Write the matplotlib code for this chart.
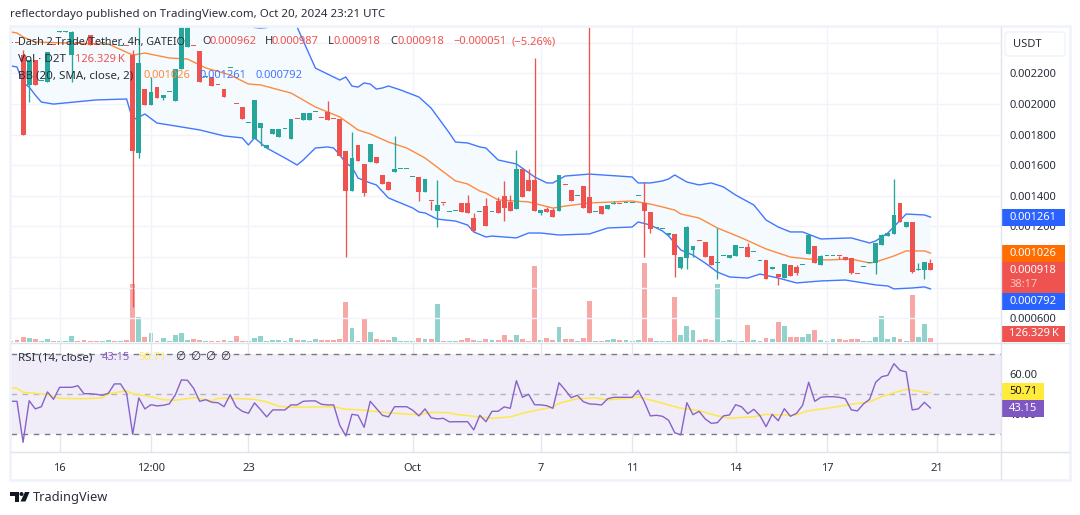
import numpy as np
import matplotlib
matplotlib.use('Agg')
import matplotlib.pyplot as plt
from matplotlib.patches import Rectangle, FancyBboxPatch, Polygon, Circle

plt.rcParams['font.family'] = ['Noto Sans', 'DejaVu Sans']

#### candles, prices in millionths of a USDT
opens = [2400,2401,2319,2124,2287,2150,2145,2386,2472,2472,2319,2399,2386,2450,2386,2398,2385,2386,2378,2379,
         2319,1680,2097,1993,2109,2041,2076,2021,2226,2374,2379,2346,2174,2174,2123,2097,2233,1999,1980,1874,
         1769,1843,1712,1804,1784,1836,1771,1903,1895,1895,1945,1909,1947,1903,1902,1693,1431,1732,1608,1621,
         1653,1536,1490,1555,1573,1573,1521,1523,1425,1365,1301,1352,1292,1299,1353,1353,1255,1292,1333,1292,
         1366,1399,1360,1314,1575,1503,1503,1288,1314,1307,1301,1470,1438,1397,1464,1392,1292,1333,1314,1346,
         1345,1351,1351,1397,1353,1294,1192,1181,1147,1151,929,994,1046,1104,1098,1007,959,1005,994,1007,
         1057,1066,1031,972,981,922,889,863,948,935,948,1020,1072,948,1005,1005,1006,1000,994,888,
         933,959,961,1079,1137,1151,1353,1196,1229,914,916,962]
highs = [2401,2401,2350,2287,2287,2151,2341,2386,2473,2473,2473,2399,2386,2450,2386,2399,2386,2386,2379,2379,
         2352,2548,2097,2178,2109,2058,2077,2228,2548,2548,2379,2346,2175,2174,2123,2097,2234,1999,1980,1875,
         2026,1875,1732,1836,1836,1837,1902,1903,1941,1941,1946,1909,2019,1903,1902,1693,1817,1732,1608,1738,
         1653,1536,1497,1791,1574,1574,1522,1523,1510,1365,1503,1352,1293,1300,1353,1405,1288,1293,1386,1293,
         1392,1497,1405,1699,1575,1575,2300,1307,1327,1320,1536,1470,1438,1398,1464,2548,1293,1333,1340,1366,
         1345,1352,1352,1398,1490,1294,1193,1182,1148,1151,1000,1203,1072,1104,1098,1007,1190,1006,1013,1079,
         1058,1092,1032,973,981,935,889,955,948,948,949,1144,1072,1013,1006,1006,1006,1000,994,888,
         934,960,1092,1151,1157,1510,1353,1229,1229,961,968,987]
lows = [2400,2400,1797,2014,2124,2150,2145,2385,2472,2472,2145,2398,2385,2385,2385,2398,2385,2385,2378,2378,
        674,1649,1993,1993,2041,2026,2076,2021,2226,2374,2378,2145,2174,2117,2122,2045,2233,1998,1902,1874,
        1769,1727,1712,1804,1784,1836,1771,1902,1895,1895,1945,1908,1895,1902,1660,1000,1431,1627,1399,1621,
        1614,1477,1438,1555,1573,1573,1521,1366,1425,1307,1196,1340,1292,1299,1294,1288,1170,1292,1203,1292,
        1288,1235,1301,1314,1392,1431,1301,1275,1294,1262,1301,1469,1366,1397,1320,1288,1292,1281,1314,1346,
        1344,1351,1351,1397,1000,1157,1192,1181,1147,872,922,922,1000,1103,1000,948,857,1005,994,1007,
        1057,1000,1031,972,857,922,818,863,876,883,948,1020,961,948,1005,1005,987,981,889,887,
        933,959,889,1079,1137,1151,1229,1196,896,914,857,918]
closes = [2401,2400,1797,2287,2124,2151,2341,2385,2473,2473,2472,2398,2385,2385,2385,2399,2386,2385,2379,2378,
          1693,2267,1993,2076,2041,2058,2077,2228,2548,2548,2378,2145,2175,2117,2122,2045,2234,1998,1902,1875,
          2026,1875,1732,1836,1836,1837,1902,1902,1941,1941,1946,1908,1895,1902,1660,1431,1647,1627,1418,1738,
          1614,1477,1438,1575,1574,1574,1522,1425,1510,1364,1340,1351,1293,1300,1294,1288,1170,1293,1203,1293,
          1288,1320,1301,1575,1392,1431,1301,1307,1294,1262,1536,1469,1366,1398,1320,1288,1293,1281,1340,1347,
          1344,1352,1352,1398,1301,1183,1193,1182,1148,1013,1000,1196,1072,1103,1000,948,960,1006,1013,1079,
          1058,1000,1032,973,857,935,870,955,876,896,949,1144,961,1007,1006,1006,1005,981,896,887,
          934,960,1092,1144,1157,1275,1229,1229,902,915,968,918]

# volume in thousands
volumes = [32,63,158,126,95,32,95,32,32,32,189,32,63,32,32,32,63,32,32,63,
           1827,788,158,284,32,126,32,221,284,63,95,63,32,32,32,63,32,189,32,32,
           126,189,32,63,63,32,126,63,63,32,95,63,63,63,95,1260,441,32,756,315,
           95,63,63,158,32,32,32,126,95,95,1197,32,32,32,63,126,63,32,95,63,
           63,221,63,221,95,32,2394,63,126,63,473,95,95,32,126,1292,32,32,63,95,
           63,63,32,63,2489,126,32,32,32,1418,221,504,378,63,95,63,1827,32,63,32,
           32,536,63,32,126,95,630,504,158,158,158,252,378,63,32,95,95,63,95,95,
           32,32,158,819,95,158,95,32,1481,158,567,126]

# bollinger bands, only the corners of each line
bb_upper_x = [0,38,39,40,41,42,43,45,47,50,54,55,56,57,58,59,60,61,62,64,67,69,72,73,75,77,78,80,83,86,88,89,91,95,102,
              103,105,107,108,109,111,113,115,117,119,122,124,126,128,130,133,138,141,142,144,147,150,151]
bb_upper = [2548,2548,2518,2499,2496,2499,2528,2528,2502,2234,2156,2176,2117,2110,2137,2130,2097,2104,2117,2091,2045,
            1973,1810,1751,1745,1719,1712,1634,1608,1523,1484,1484,1529,1542,1523,1484,1484,1497,1510,1536,1490,1471,
            1484,1458,1405,1340,1242,1196,1164,1164,1118,1125,1092,1105,1157,1281,1275,1261]
bb_mid_x = [0,1,2,4,9,16,20,22,26,29,32,36,39,41,46,50,54,57,59,62,65,68,73,75,77,78,80,85,89,91,95,102,105,107,109,110,
            113,116,120,124,128,131,134,138,141,142,145,147,150,151]
bb_mid = [2470,2463,2437,2404,2398,2391,2319,2332,2300,2293,2235,2189,2130,2124,2071,1980,1915,1830,1804,1751,1712,1647,
          1497,1477,1431,1418,1373,1360,1320,1333,1353,1366,1346,1327,1307,1281,1255,1190,1125,1053,1000,987,981,987,961,
          968,1007,1040,1040,1026]
bb_lower_x = [0,1,2,3,4,5,7,14,19,20,22,24,27,31,35,38,39,40,42,45,47,48,50,52,53,54,55,56,57,59,60,62,66,67,68,70,73,75,
              76,78,79,83,85,87,90,95,98,102,103,105,107,108,110,112,114,116,118,121,123,126,129,133,137,140,142,144,145,
              148,150,151]
bb_lower = [2248,2241,2137,2110,2058,2012,1999,2026,2032,1895,1934,1875,1856,1830,1791,1778,1732,1778,1712,1647,1601,1634,
            1712,1719,1712,1667,1614,1588,1516,1484,1471,1386,1320,1294,1288,1248,1235,1209,1164,1131,1137,1125,1157,1157,
            1144,1151,1190,1196,1229,1209,1170,1137,1046,1013,961,902,870,863,889,863,831,844,850,831,818,811,792,798,805,792]

# rsi, one value per bar
rsi = [46.5,46.5,26,46.8,42.7,43.8,51.2,47.5,53.5,53.5,53.5,54.3,50.3,50.3,50,49.5,50.5,55.2,55.2,50.5,
       30,48.2,42.7,44.8,44.2,44.5,45.2,49.7,57.2,57,53,46.5,47.3,46,45.8,43.8,49.8,43.7,41.5,40.5,
       45.7,42.3,38.7,42.2,42.2,42.2,44.7,44.7,46.5,46.7,46.7,45,44.7,44.7,34.5,29.2,40,39.5,33.5,46.5,
       43,39.5,38.7,43.8,43.8,43.8,42,39.2,42.7,38.3,37.7,38,36.2,36.3,36.3,36.3,32.2,39.5,36.3,41.5,
       41.5,43.7,43,56.8,48.5,50,44.8,44.7,44.3,43,55.8,52.2,48.3,49.5,46.3,45.2,45,44.7,47.8,48.5,
       48.5,48.5,48.5,52,46.3,39.2,39.5,39,37,30.8,29.7,45.8,39.8,41.5,37.7,35.5,35.8,39.2,39.7,44.8,
       43.7,40.3,42.5,39.3,33.8,40,36.8,42.8,39,40.5,44.5,56,46.5,48.5,48.8,48.8,48.5,47.8,42.2,41.7,
       45.2,47.5,56,58.8,59.5,65.3,62,61.2,42.2,42.7,46,43.15]
rsi_ma_x = [0,1,2,5,6,7,8,12,15,16,19,20,23,25,27,30,33,34,36,40,42,44,46,50,53,55,57,59,63,67,69,72,73,76,79,82,84,87,89,
            90,93,96,98,102,103,104,108,110,111,113,116,118,122,124,128,129,131,134,138,141,143,145,147,148,151]
rsi_ma = [53.2,53,51,50.2,50,48.8,48,47.8,48.2,50.2,51.8,50.2,48.8,47.3,47,48.3,46.8,48,48,47.5,46.2,44,43.5,43.7,43.8,
          42.5,42.3,41.7,40.5,39.8,41,40.8,40,39,38,38.7,40.5,42.5,43.5,45.5,47.8,48.2,47.2,48.2,48.7,48,44.7,43,42.8,
          41.8,39.2,38,38.8,40,39.5,39.8,41.8,43,45,46.3,48.8,50.8,52.5,52,50.71]

date_ticks = [8,23,39,66,87,102,119,134,152]
date_labels = ['16','12:00','23','Oct','7','11','14','17','21']
price_ticks = [2400,2200,2000,1800,1600,1400,1200,1000,800,600]
price_labels = ['','0.002200','0.002000','0.001800','0.001600','0.001400','0.001200','','','0.000600']

UP = '#26a69a'
DOWN = '#ef5350'
TXT = '#2a2e39'
FRAME = '#f0f3fa'
LINE = '#e0e3eb'

W, H = 1080, 515
BAR0, STEP = 10.9, 6.09  # pixel of bar 0 and pixels per bar
PANE_L, PANE_R = 10.5, 1000.7


def pane(top, bottom):
    return [PANE_L/W, 1-bottom/H, (PANE_R-PANE_L)/W, (bottom-top)/H]


def tune(a):
    a.set_xlim((PANE_L-BAR0)/STEP, (PANE_R-BAR0)/STEP)
    for s in a.spines.values():
        s.set_visible(False)
    a.tick_params(length=0)


fig = plt.figure(figsize=(W/100, H/100), dpi=100)

o = np.array(opens)
h = np.array(highs)
l = np.array(lows)
c = np.array(closes)
x = np.arange(len(o))
colors = [UP if up else DOWN for up in c >= o]

# volume underneath the candles
ax_vol = fig.add_axes(pane(27, 342.7))
tune(ax_vol)
ax_vol.set_ylim(-0.7*31.6, 315*31.6)
ax_vol.bar(x, volumes, width=0.8, color=colors, alpha=0.5, linewidth=0)
ax_vol.axis('off')

# candles
ax = fig.add_axes(pane(27, 342.7))
ax.patch.set_visible(False)
tune(ax)
ax.set_xticks(date_ticks)
ax.set_xticklabels([])
ax.yaxis.tick_right()
ax.set_yticks(price_ticks)
ax.set_yticklabels(price_labels, fontsize=8.0, color=TXT)
ax.tick_params(axis='y', pad=6.2)
ax.set_ylim(2678.6-6.53*342.7, 2678.6-6.53*27)
ax.grid(True, color=FRAME, lw=1)
ax.set_axisbelow(True)
ax.fill(bb_upper_x+bb_lower_x[::-1], bb_upper+bb_lower[::-1], color='#f4fafe', lw=0, zorder=1)
ax.plot(bb_upper_x, bb_upper, color='#4377ff', lw=1, zorder=2)
ax.plot(bb_lower_x, bb_lower, color='#4377ff', lw=1, zorder=2)
ax.plot(bb_mid_x, bb_mid, color='#ff8a3c', lw=1, zorder=2)
ax.vlines(x, l, h, colors=colors, lw=0.95, zorder=3)
ax.bar(x, np.maximum(np.abs(c-o), 7), bottom=np.minimum(o, c), width=0.8, color=colors, lw=0, zorder=4)

# rsi pane
ax_rsi = fig.add_axes(pane(343.5, 452.3))
tune(ax_rsi)
ax_rsi.set_ylim(70+(354.3-452.3)/2, 70+(354.3-343.5)/2)
ax_rsi.axhspan(30, 70, color='#f0ecf8', lw=0)
ax_rsi.grid(True, color='#e8e5f1', lw=1)
ax_rsi.set_axisbelow(True)
ax_rsi.axhline(70, color='#787b86', lw=1, dashes=(4, 4))
ax_rsi.axhline(30, color='#787b86', lw=1, dashes=(4, 4))
ax_rsi.axhline(50, color='#b5b3bf', lw=1, dashes=(4, 4))
ax_rsi.plot(rsi_ma_x, rsi_ma, color='#ffe94a', lw=1.1)
ax_rsi.plot(x, rsi, color='#8763c8', lw=1)
ax_rsi.set_xticks(date_ticks)
ax_rsi.set_xticklabels(date_labels, fontsize=8.0, color=TXT)
ax_rsi.tick_params(axis='x', pad=8)
ax_rsi.yaxis.tick_right()
ax_rsi.set_yticks([60, 40])
ax_rsi.set_yticklabels(['60.00', '40.00'], fontsize=8.0, color=TXT)
ax_rsi.tick_params(axis='y', pad=6.2)

# frame, legends and price tags in pixel coordinates
ov = fig.add_axes([0, 0, 1, 1])
ov.set_xlim(0, W)
ov.set_ylim(H, 0)
ov.axis('off')
ov.add_patch(Rectangle((10, 26), 1059.5, 453.5, fill=False, ec=FRAME, lw=2))
ov.plot([PANE_L, 1069], [342.7, 342.7], color=LINE, lw=1)
ov.plot([PANE_L, 1069], [452.3, 452.3], color=LINE, lw=1)
ov.plot([1000.7, 1000.7], [27, 479], color=LINE, lw=1)
ov.add_patch(FancyBboxPatch((1005, 32), 60, 24, boxstyle='round,pad=0,rounding_size=3', fc='white', ec=FRAME, lw=1))


def label(px, py, s, color=TXT, size=8.4, **kw):
    ov.text(px, py, s, color=color, fontsize=size, va='center', ha='left', **kw)


label(10, 15, 'reflectordayo published on TradingView.com, Oct 20, 2024 23:21 UTC', size=8.3)
label(1013, 44.5, 'USDT', size=8.0)

label(18, 42, 'Dash 2 Trade/Tether, 4h, GATEIO', size=7.75)
for px, s, col in [(202, 'O', TXT), (209, '0.000962', DOWN), (265, 'H', TXT), (272, '0.000987', DOWN),
                   (328, 'L', TXT), (333, '0.000918', DOWN), (390, 'C', TXT), (397, '0.000918', DOWN),
                   (453, '\u22120.000051', DOWN), (512, '(\u22125.26%)', DOWN)]:
    label(px, 42, s, col, size=8.0)
label(18, 59, 'Vol \u00b7 D2T')
label(75, 59, '126.329\u2009K', DOWN, size=8.0)
label(18, 76, 'BB (20, SMA, close, 2)', size=8.3)
label(143, 76, '0.001026', '#ff8a3c', size=8.0)
label(199, 76, '0.001261', '#4377ff', size=8.0)
label(255, 76, '0.000792', '#4377ff', size=8.0)
label(18, 358, 'RSI (14, close)', size=8.3)
label(102, 358, '43.15', '#8763c8', size=8.0)
label(138, 358, '50.71', '#ffee58', size=8.0)
for px in [175, 190, 205, 220]:
    label(px, 358, '\u2205')

tags = [(209, 226, 1065, '#2962ff', '0.001261', 'white'),
        (245, 262, 1065, '#ff6d00', '0.001026', 'white'),
        (293, 309.5, 1065, '#2962ff', '0.000792', 'white'),
        (326, 342, 1065, DOWN, '126.329\u2009K', 'white'),
        (383, 399.5, 1044, '#ffeb3b', '50.71', '#131722'),
        (400, 417, 1044, '#7e57c2', '43.15', 'white')]
for top, bottom, right, col, s, tc in tags:
    ov.add_patch(Rectangle((1001, top), right-1001, bottom-top, fc=col, lw=0))
    label(1009, (top+bottom)/2, s, tc, size=8.0)
ov.add_patch(Rectangle((1001, 262), 64, 31, fc=DOWN, lw=0))
label(1009, 270.5, '0.000918', 'white', size=8.0)
label(1009, 284.5, '38:17', '#fbc4c3', size=8.0)

# logo
ov.add_patch(Polygon([(10, 492), (19, 492), (19, 501.5), (14.5, 501.5), (14.5, 496), (10, 496)], fc='#131722', lw=0))
ov.add_patch(Circle((21.5, 494), 2, fc='#131722', lw=0))
ov.add_patch(Polygon([(25, 492), (29.5, 492), (25.5, 501.5), (20.5, 501.5)], fc='#131722', lw=0))
label(33, 497, 'TradingView', size=9.2)

fig.savefig('out.png', dpi=100)
